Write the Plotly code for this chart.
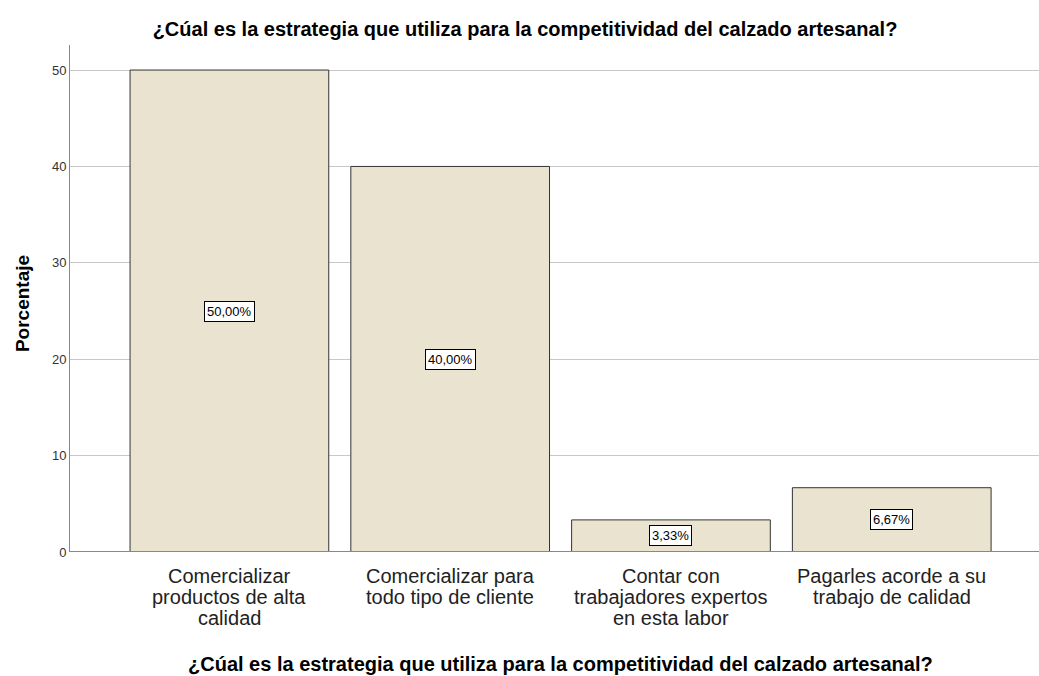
import plotly.graph_objects as go

categories = [
    "Comercializar\nproductos de alta\ncalidad",
    "Comercializar para\ntodo tipo de cliente",
    "Contar con\ntrabajadores expertos\nen esta labor",
    "Pagarles acorde a su\ntrabajo de calidad",
]
values = [50.00, 40.00, 3.33, 6.67]
labels = ["50,00%", "40,00%", "3,33%", "6,67%"]
y_ticks = [0, 10, 20, 30, 40, 50]

title = "¿Cúal es la estrategia que utiliza para la competitividad del calzado artesanal?"
y_title = "Porcentaje"
font = "Liberation Sans, Arial, sans-serif"

fig = go.Figure()
fig.add_trace(go.Bar(
    x=list(range(len(categories))),
    y=values,
    width=0.9,
    marker=dict(color="#EAE3CF", line=dict(color="#333333", width=1)),
    hoverinfo="skip",
))

# value labels in boxes at the middle of each bar
for i, (v, lab) in enumerate(zip(values, labels)):
    fig.add_annotation(
        x=i, y=v / 2, text=lab, showarrow=False,
        font=dict(family=font, size=13, color="#000000"),
        bgcolor="white", bordercolor="#000000", borderwidth=1, borderpad=2,
    )

# category labels (tight line spacing), one annotation per line
for i, cat in enumerate(categories):
    for k, line in enumerate(cat.split("\n")):
        fig.add_annotation(
            x=i, y=0, xref="x", yref="y", text=line, showarrow=False,
            yanchor="middle", yshift=-(24 + 21 * k),
            font=dict(family=font, size=20, color="#222222"),
        )

# x-axis title
fig.add_annotation(
    x=0.5, xshift=6, xref="paper", y=0, yref="paper", yshift=-112,
    yanchor="middle", text="<b>" + title + "</b>", showarrow=False,
    font=dict(family=font, size=20, color="#000000"),
)
# y-axis title
fig.add_annotation(
    x=0, xref="paper", xshift=-48, y=0.489, yref="paper", textangle=-90,
    xanchor="center", yanchor="middle", text="<b>" + y_title + "</b>", showarrow=False,
    font=dict(family=font, size=19, color="#000000"),
)

fig.update_layout(
    width=1039, height=676,
    margin=dict(l=70, r=0, t=45, b=124),
    paper_bgcolor="white", plot_bgcolor="white",
    showlegend=False,
    font=dict(family=font, color="#000000"),
    title=dict(text="<b>" + title + "</b>", x=525 / 1039, xref="container", xanchor="center",
               y=1 - 29 / 676, yanchor="middle",
               font=dict(family=font, size=20, color="#000000")),
    xaxis=dict(
        tickmode="array", tickvals=list(range(len(categories))),
        ticktext=["" for _ in categories],
        range=[-0.722, 3.667], showgrid=False, zeroline=False,
        showline=False, ticks="",
    ),
    yaxis=dict(
        range=[0, 52.6], tickvals=y_ticks, showgrid=True, gridcolor="#C8C8C8", gridwidth=1,
        zeroline=False, showline=True, linecolor="#888888", linewidth=1,
        ticks="", tickfont=dict(family=font, size=13, color="#333333"),
    ),
)
fig.add_shape(type="line", xref="paper", yref="y", x0=0, x1=1, y0=0, y1=0,
              line=dict(color="#888888", width=2), layer="above")

fig.write_html("out.html", config={"displayModeBar": False},
               post_script="document.body.style.margin='0';document.body.style.padding='0';")
